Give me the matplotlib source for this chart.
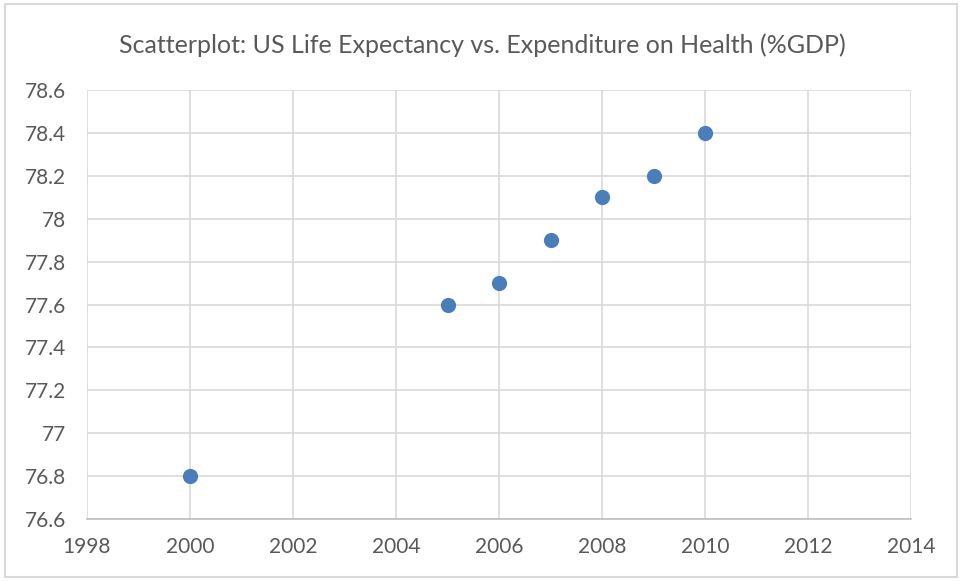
import matplotlib
matplotlib.use('Agg')
import matplotlib.pyplot as plt
from matplotlib.patches import Rectangle

years = [2000, 2005, 2006, 2007, 2008, 2009, 2010]
life_expectancy = [76.8, 77.6, 77.7, 77.9, 78.1, 78.2, 78.4]
x_ticks = [1998, 2000, 2002, 2004, 2006, 2008, 2010, 2012, 2014]
y_ticks = [76.6, 76.8, 77, 77.2, 77.4, 77.6, 77.8, 78, 78.2, 78.4, 78.6]
y_labels = ['76.6', '76.8', '77', '77.2', '77.4', '77.6', '77.8', '78', '78.2', '78.4', '78.6']

plt.rcParams['font.family'] = ['Lato', 'DejaVu Sans']
text_color = '#595959'
grid_color = '#D9D9D9'

fig = plt.figure(figsize=(9.64, 5.81), dpi=100)
ax = fig.add_axes([0.0902, 0.1067, 0.855, 0.738])

# outer chart border
fig.patches.append(Rectangle((0.005, 0.007), 0.988, 0.986, transform=fig.transFigure,
                             fill=False, edgecolor=grid_color, linewidth=1.5))

ax.scatter(years, life_expectancy, s=120, color='#4A7EBB', zorder=3, linewidths=0)

ax.set_xlim(1998, 2014)
ax.set_ylim(76.6, 78.6)
ax.set_xticks(x_ticks)
ax.set_yticks(y_ticks)
ax.set_yticklabels(y_labels)
ax.grid(True, color=grid_color, linewidth=1.2)
ax.set_axisbelow(True)
for side in ['top', 'right', 'left']:
    ax.spines[side].set_visible(False)
ax.spines['bottom'].set_color('#BFBFBF')
ax.spines['bottom'].set_linewidth(1.2)
ax.tick_params(length=0, labelsize=15, colors=text_color)
ax.tick_params(axis='x', pad=13)
ax.tick_params(axis='y', pad=15)

fig.text(0.5, 0.922, 'Scatterplot: US Life Expectancy vs. Expenditure on Health (%GDP)',
         ha='center', va='center', fontsize=18, color=text_color)

fig.savefig('out.png', dpi=100)
